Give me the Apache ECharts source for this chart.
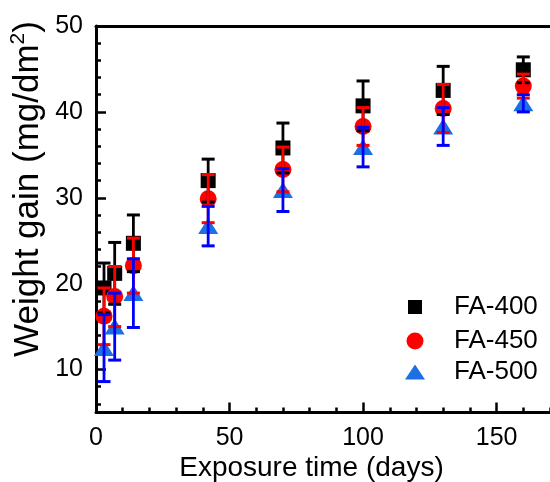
<!DOCTYPE html>
<html><head><meta charset="utf-8">
<script src="https://cdn.jsdelivr.net/npm/echarts@6/dist/echarts.min.js"></script>
<style>html,body{margin:0;padding:0;background:#fff}#c{width:550px;height:482px}</style>
</head><body><div id="c"></div>
<script>
const days = [3, 7, 14, 42, 70, 100, 130, 160];
const fa400 = [19.5, 21.2, 24.7, 32.0, 35.8, 40.7, 42.5, 44.9];
const fa400Err = [2.9, 3.6, 3.3, 2.5, 2.9, 2.9, 2.8, 1.5];
const fa450 = [16.2, 18.5, 22.1, 29.9, 33.3, 38.3, 40.4, 43.0];
const fa450Err = [3.3, 3.5, 3.2, 2.8, 2.6, 2.2, 2.8, 1.4];
const fa500 = [12.5, 15.0, 18.9, 26.7, 30.9, 35.9, 38.3, 41.0];
const fa500Err = [3.9, 3.9, 4.0, 2.3, 2.5, 2.3, 2.2, 1.0];
const xMajorTicks = [0, 50, 100, 150];
const xMinorTicks = [10, 20, 30, 40, 60, 70, 80, 90, 110, 120, 130, 140, 160, 170];
const yMajorTicks = [10, 20, 30, 40, 50];
const yMinorTicks = [6, 8, 12, 14, 16, 18, 22, 24, 26, 28, 32, 34, 36, 38, 42, 44, 46, 48];

const FONT = '"Liberation Sans", Arial, sans-serif';
const chart = echarts.init(document.getElementById('c'), null, {renderer: 'canvas'});

function errSeries(name, vals, errs, color, z) {
  return {
    type: 'custom', name: name + ' err', xAxisIndex: 0, yAxisIndex: 0, z: z,
    silent: true, animation: false,
    data: days.map((d, i) => [d, vals[i] - errs[i], vals[i] + errs[i]]),
    encode: {x: 0, y: [1, 2]},
    renderItem(params, api) {
      const x = api.value(0);
      const lo = api.coord([x, api.value(1)]);
      const hi = api.coord([x, api.value(2)]);
      const hw = 6.5;
      return {type: 'group', children: [
        {type: 'line', shape: {x1: lo[0], y1: lo[1], x2: hi[0], y2: hi[1]}, style: {stroke: color, lineWidth: 2.8}},
        {type: 'line', shape: {x1: lo[0] - hw, y1: lo[1], x2: lo[0] + hw, y2: lo[1]}, style: {stroke: color, lineWidth: 3}},
        {type: 'line', shape: {x1: hi[0] - hw, y1: hi[1], x2: hi[0] + hw, y2: hi[1]}, style: {stroke: color, lineWidth: 3}}
      ]};
    }
  };
}

function scatter(name, vals, symbol, size, color, z) {
  return {
    type: 'scatter', name: name, xAxisIndex: 0, yAxisIndex: 0, z: z,
    symbol: symbol, symbolSize: size, animation: false,
    itemStyle: {color: color, opacity: 1},
    data: days.map((d, i) => [d, vals[i]])
  };
}

const legendBase = {orient: 'vertical', padding: 0, itemGap: 0,
  textStyle: {fontSize: 26, fontFamily: FONT, color: '#000'}};

const option = {
  animation: false,
  backgroundColor: '#fff',
  grid: {left: 96, top: 26, width: 462, height: 386.5, containLabel: false},
  xAxis: [
    {type: 'value', min: 0, max: 170, position: 'bottom', offset: 0,
     axisLine: {show: true, lineStyle: {color: '#000', width: 3}},
     axisTick: {show: true, inside: true, length: 10, lineStyle: {color: '#000', width: 2.5}, customValues: xMajorTicks},
     axisLabel: {show: true, customValues: xMajorTicks, fontSize: 25, fontFamily: FONT, color: '#000', margin: 13},
     splitLine: {show: false}},
    {type: 'value', min: 0, max: 170, position: 'bottom', offset: 0,
     axisLine: {show: false},
     axisTick: {show: true, inside: true, length: 5, lineStyle: {color: '#000', width: 2.5}, customValues: xMinorTicks},
     axisLabel: {show: false}, splitLine: {show: false}},
    {type: 'value', min: 0, max: 170, position: 'top', offset: 0,
     axisLine: {show: true, lineStyle: {color: '#000', width: 3}},
     axisTick: {show: false}, axisLabel: {show: false}, splitLine: {show: false}}
  ],
  yAxis: [
    {type: 'value', min: 5, max: 50, position: 'left', offset: 0,
     axisLine: {show: true, lineStyle: {color: '#000', width: 3}},
     axisTick: {show: true, inside: true, length: 10, lineStyle: {color: '#000', width: 2.5}, customValues: yMajorTicks},
     axisLabel: {show: true, customValues: yMajorTicks, fontSize: 25, fontFamily: FONT, color: '#000', margin: 13},
     splitLine: {show: false}},
    {type: 'value', min: 5, max: 50, position: 'left', offset: 0,
     axisLine: {show: false},
     axisTick: {show: true, inside: true, length: 5, lineStyle: {color: '#000', width: 2.5}, customValues: yMinorTicks},
     axisLabel: {show: false}, splitLine: {show: false}}
  ],
  legend: [
    Object.assign({}, legendBase, {data: [{name: 'FA-400', icon: 'rect'}], left: 408, top: 294, itemWidth: 14, itemHeight: 14,
      textStyle: Object.assign({}, legendBase.textStyle, {padding: [0, 0, 0, 27]})}),
    Object.assign({}, legendBase, {data: [{name: 'FA-450', icon: 'circle'}], left: 406.5, top: 328, itemWidth: 17, itemHeight: 17,
      textStyle: Object.assign({}, legendBase.textStyle, {padding: [0, 0, 0, 25.5]})}),
    Object.assign({}, legendBase, {data: [{name: 'FA-500', icon: 'triangle'}], left: 405, top: 359, itemWidth: 20, itemHeight: 15,
      textStyle: Object.assign({}, legendBase.textStyle, {padding: [0, 0, 0, 24]})})
  ],
  series: [
    scatter('FA-400', fa400, 'rect', 15, '#000000', 2),
    scatter('FA-450', fa450, 'circle', 17, '#ff0000', 3),
    scatter('FA-500', fa500, 'triangle', [20, 16], '#1c70e3', 4),
    errSeries('FA-400', fa400, fa400Err, '#000000', 5),
    errSeries('FA-450', fa450, fa450Err, '#ff0000', 6),
    errSeries('FA-500', fa500, fa500Err, '#0000ff', 7)
  ],
  graphic: [
    {type: 'text', x: 311.5, y: 468, silent: true,
     style: {text: 'Exposure time (days)', font: '28px ' + FONT, fill: '#000', align: 'center', verticalAlign: 'middle'}},
    {type: 'text', x: 28, y: 189, rotation: Math.PI / 2, silent: true,
     style: {text: '{b|Weight gain (mg/dm}{s|2}{b|)}', align: 'center', verticalAlign: 'middle', fill: '#000',
       rich: {b: {fontSize: 35, fontFamily: FONT, fill: '#000', lineHeight: 40},
              s: {fontSize: 21, fontFamily: FONT, fill: '#000', verticalAlign: 'top', lineHeight: 40}}}}
  ]
};
chart.setOption(option);
</script>
</body></html>
